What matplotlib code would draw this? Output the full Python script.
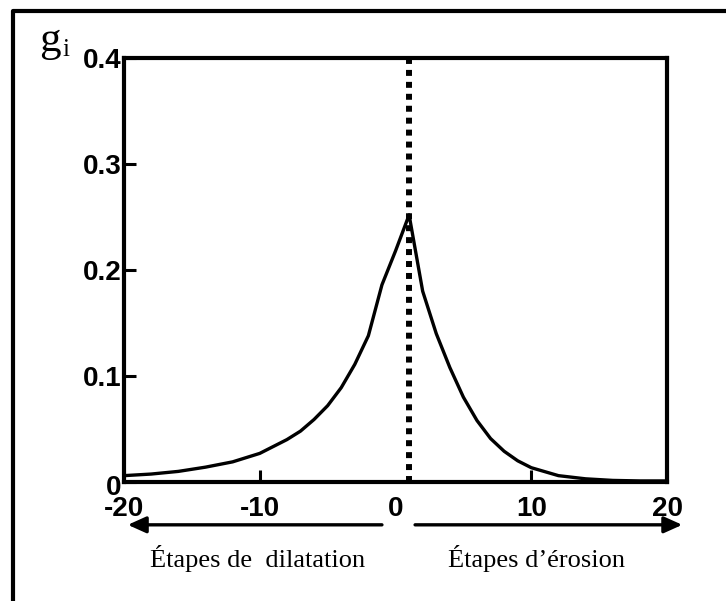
import numpy as np
import matplotlib.pyplot as plt
from matplotlib.lines import Line2D
from matplotlib.transforms import ScaledTranslation

# g_i selon le nombre d'etapes (dilatation < 0 < erosion)
etapes = [-20, -18, -16, -14, -12, -10, -8, -7, -6, -5, -4, -3, -2, -1, 0,
          1, 2, 3, 4, 5, 6, 7, 8, 9, 10, 12, 14, 16, 18, 20]
gi = [0.006, 0.0075, 0.010, 0.014, 0.019, 0.027, 0.040, 0.048, 0.059, 0.072,
      0.089, 0.111, 0.138, 0.186, 0.218,
      0.252, 0.180, 0.140, 0.108, 0.080, 0.058, 0.041, 0.029, 0.020, 0.0135,
      0.006, 0.003, 0.0015, 0.001, 0.001]
x_pic = 1
xticks = [-20, -10, 0, 10, 20]
yticks = [0, 0.1, 0.2, 0.3, 0.4]
ylabels = ["0", "0.1", "0.2", "0.3", "0.4"]

fig = plt.figure(figsize=(7.26, 6.01), dpi=100)
ax = fig.add_axes([0.1708, 0.198, 0.748, 0.7055])

ax.plot(etapes, gi, color="k", lw=2.4)
ax.plot([x_pic, x_pic], [0, 0.4], color="k", lw=4.3,
        linestyle=(0, (1, 1)), dash_capstyle="butt")

ax.set_xlim(-20, 20)
ax.set_ylim(0, 0.4)
ax.set_xticks(xticks)
ax.set_xticklabels([str(v) for v in xticks])
ax.set_yticks(yticks)
ax.set_yticklabels(ylabels)
for s in ax.spines.values():
    s.set_linewidth(3)
ax.tick_params(direction="in", length=8.6, width=2.2, labelsize=20)
ax.tick_params(axis="x", pad=10)
ax.tick_params(axis="y", pad=2)
ax.xaxis.get_major_ticks()[2].tick1line.set_visible(False)
for lab in ax.get_xticklabels() + ax.get_yticklabels():
    lab.set_fontweight("bold")
    lab.set_fontfamily("Liberation Sans")
# le "0" de l'axe y descend un peu sous l'axe
lab0 = ax.yaxis.get_major_ticks()[0].label1
lab0.set_transform(lab0.get_transform()
                   + ScaledTranslation(0, -2 / 72, fig.dpi_scale_trans))

# fleches sous l'axe
ax.annotate("", xy=(0.007, -0.101), xytext=(0.475, -0.101),
            xycoords="axes fraction", textcoords="axes fraction",
            arrowprops=dict(arrowstyle="-|>,head_length=1.0,head_width=0.45",
                            mutation_scale=11, lw=2.4, color="k",
                            shrinkA=0, shrinkB=0))
ax.annotate("", xy=(1.028, -0.101), xytext=(0.536, -0.101),
            xycoords="axes fraction", textcoords="axes fraction",
            arrowprops=dict(arrowstyle="-|>,head_length=1.0,head_width=0.45",
                            mutation_scale=11, lw=2.4, color="k",
                            shrinkA=0, shrinkB=0))

fig.text(258 / 726, 1 - 567 / 601, "Étapes de  dilatation", ha="center",
         va="baseline", fontsize=19, family="Liberation Serif")
fig.text(536 / 726, 1 - 567 / 601, "Étapes d\u2019érosion", ha="center",
         va="baseline", fontsize=19, family="Liberation Serif")

fig.text(39 / 726, 1 - 51 / 601, "g", ha="left", va="baseline",
         fontsize=31, family="Liberation Serif")
fig.text(62 / 726, 1 - 56 / 601, "i", ha="left", va="baseline",
         fontsize=18, family="Liberation Serif")

# cadre exterieur
fig.add_artist(Line2D([13 / 726, 13 / 726, 1.0], [0.0, 1 - 11 / 601, 1 - 11 / 601],
                      transform=fig.transFigure, color="k", lw=3))

fig.savefig("out.png", dpi=100)
